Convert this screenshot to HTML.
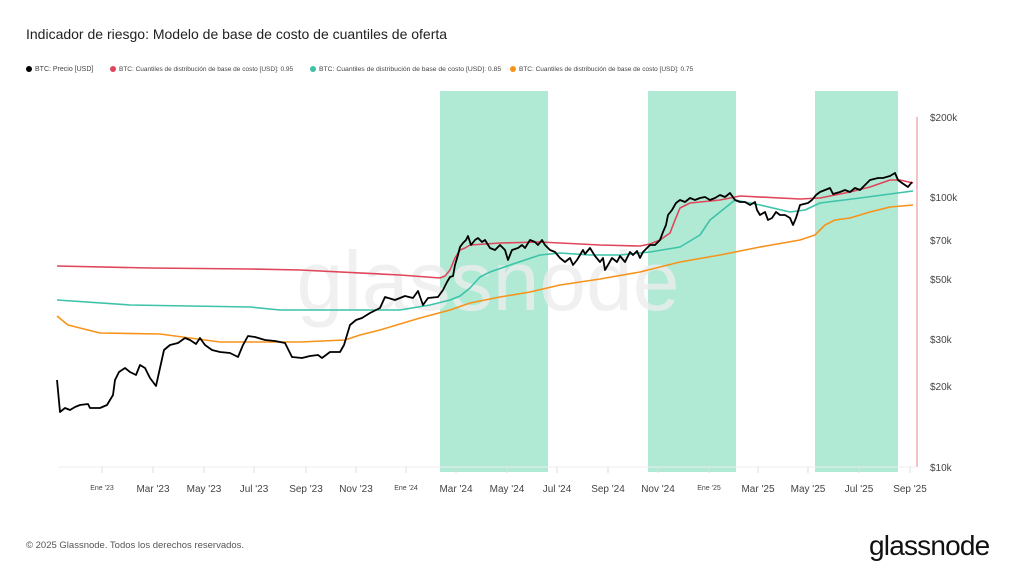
<!DOCTYPE html>
<html><head><meta charset="utf-8"><style>
body{margin:0;width:1024px;height:576px;background:#fff;font-family:"Liberation Sans",sans-serif;overflow:hidden;position:relative}
.t{position:absolute;left:26px;top:26px;font-size:14px;color:#222}
.lg{position:absolute;top:66px;font-size:6.5px;color:#444;white-space:nowrap}
.lg i{display:inline-block;width:6px;height:6px;border-radius:50%;margin-right:3px;vertical-align:-1px}
.ft{position:absolute;left:26px;top:540px;font-size:9.5px;color:#555}
.logo{position:absolute;left:869px;top:530px;font-size:28px;color:#111;letter-spacing:-0.8px}
</style></head><body>
<div class="t">Indicador de riesgo: Modelo de base de costo de cuantiles de oferta</div>
<div class="lg" style="left:26px;font-size:7px"><i style="background:#000"></i>BTC: Precio [USD]</div>
<div class="lg" style="left:110px"><i style="background:#e0455a"></i>BTC: Cuantiles de distribución de base de costo [USD]: 0.95</div>
<div class="lg" style="left:310px;font-size:6.8px"><i style="background:#3cc3a8"></i>BTC: Cuantiles de distribución de base de costo [USD]: 0.85</div>
<div class="lg" style="left:510px"><i style="background:#f7931a"></i>BTC: Cuantiles de distribución de base de costo [USD]: 0.75</div>
<svg width="1024" height="576" style="position:absolute;left:0;top:0">
<g fill="#b0ead5"><rect x="440" y="91" width="108" height="381"/><rect x="648" y="91" width="88" height="381"/><rect x="815" y="91" width="83" height="381"/></g>
<text x="488" y="310" font-size="84" fill="#ececec" fill-opacity="0.8" text-anchor="middle" font-family="Liberation Sans">glassnode</text>
<line x1="58" y1="467" x2="915" y2="467" stroke="#eee"/>
<g stroke="#ddd"><path d="M102 467v6M153 467v6M204 467v6M254 467v6M306 467v6M356 467v6M406 467v6M456 467v6M507 467v6M557 467v6M608 467v6M658 467v6M709 467v6M758 467v6M808 467v6M859 467v6M910 467v6"/></g>
<line x1="917" y1="117" x2="917" y2="467" stroke="#e58a95" stroke-width="1"/>
<g font-size="10" fill="#444" font-family="Liberation Sans">
<text x="930" y="121">$200k</text><text x="930" y="201">$100k</text><text x="930" y="244">$70k</text><text x="930" y="283">$50k</text><text x="930" y="343">$30k</text><text x="930" y="390">$20k</text><text x="930" y="471">$10k</text>
</g>
<g font-size="10" fill="#444" text-anchor="middle" font-family="Liberation Sans">
<text x="102" y="490" font-size="7">Ene '23</text><text x="153" y="492">Mar '23</text><text x="204" y="492">May '23</text><text x="254" y="492">Jul '23</text><text x="306" y="492">Sep '23</text><text x="356" y="492">Nov '23</text><text x="406" y="490" font-size="7">Ene '24</text><text x="456" y="492">Mar '24</text><text x="507" y="492">May '24</text><text x="557" y="492">Jul '24</text><text x="608" y="492">Sep '24</text><text x="658" y="492">Nov '24</text><text x="709" y="490" font-size="7">Ene '25</text><text x="758" y="492">Mar '25</text><text x="808" y="492">May '25</text><text x="859" y="492">Jul '25</text><text x="910" y="492">Sep '25</text>
</g>
<g fill="none" stroke-width="1.6" stroke-linejoin="round">
<polyline stroke="#f7931a" points="57,316 68,325 100,333 160,334 220,342 300,342 345,340 360,335 380,330 420,318 450,310 470,303 500,297 530,292 560,285 600,279 640,272 680,262 720,255 760,247 800,240 815,235 825,225 835,220 850,218 870,212 890,207 913,205"/>
<polyline stroke="#3cc3a8" points="57,300 130,305 250,307 280,310 400,310 430,305 450,300 460,296 470,288 480,277 490,272 510,265 540,255 560,253 590,255 620,255 650,252 680,247 700,235 710,220 720,212 735,200 760,205 790,212 805,210 820,203 860,198 890,194 913,191"/>
<polyline stroke="#e0455a" points="57,266 150,268 250,269 300,270 400,275 440,278 445,276 450,270 455,258 460,250 465,248 470,245 500,243 540,242 600,245 640,246 650,244 660,240 670,233 675,220 680,208 690,203 720,200 740,196 800,199 820,198 850,192 870,187 890,180 900,180 913,183"/>
<polyline stroke="#000" stroke-width="1.8" points="57,380 60,412 65,408 70,410 75,407 80,405 88,404 90,408 100,408 107,405 113,395 115,380 119,372 125,368 130,372 136,375 140,365 145,368 150,378 156,386 160,368 164,350 170,345 178,343 185,338 190,340 196,344 200,338 205,345 212,350 220,352 230,353 238,357 243,345 248,336 255,337 265,340 275,341 285,343 292,357 302,358 310,356 318,355 322,358 330,352 340,352 344,345 350,325 356,320 362,318 370,313 380,308 385,297 395,300 405,296 413,298 418,291 423,305 428,298 438,297 443,290 447,282 450,277 453,276 455,265 458,255 460,247 463,243 466,240 468,236 471,245 475,240 478,238 482,242 485,240 490,248 495,250 500,245 505,250 508,260 512,250 518,248 522,245 525,248 530,240 535,242 538,245 542,240 545,245 550,250 555,252 560,258 565,262 570,258 573,265 577,260 580,255 583,250 585,254 590,248 595,256 600,262 603,258 605,270 608,265 612,258 617,262 620,256 625,262 630,252 633,255 637,251 640,258 643,252 650,245 655,245 660,240 663,232 666,225 668,215 672,210 676,203 680,200 685,202 690,198 695,200 700,198 705,197 710,200 715,198 720,195 725,197 730,193 735,200 740,202 745,202 750,205 755,202 757,210 760,215 765,212 768,220 772,218 776,212 780,215 785,215 790,218 793,225 796,218 800,205 808,203 812,200 816,195 820,192 825,190 830,188 833,194 840,192 845,190 850,192 855,188 860,190 865,185 870,180 878,178 883,178 890,176 895,173 898,180 902,183 908,187 912,182"/>
</g>
</svg>
<div class="ft">© 2025 Glassnode. Todos los derechos reservados.</div>
<div class="logo">glassnode</div>
</body></html>
